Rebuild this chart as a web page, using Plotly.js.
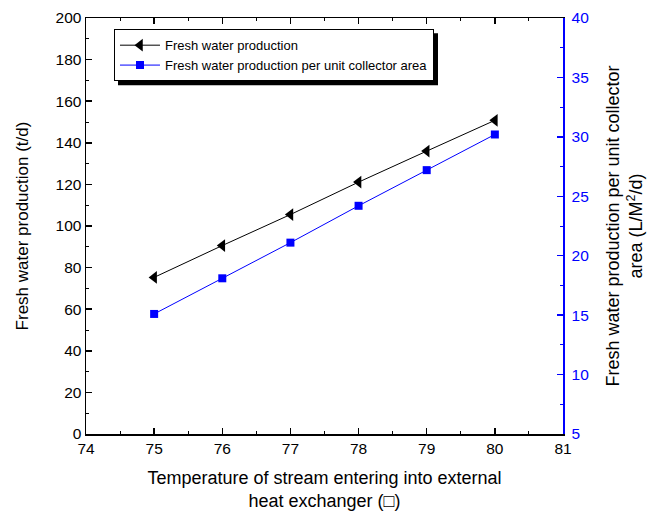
<!DOCTYPE html>
<html>
<head>
<meta charset="utf-8">
<script src="https://cdn.plot.ly/plotly-3.0.1.min.js"></script>
<style>html,body{margin:0;padding:0;background:#fff}#chart{width:662px;height:511px}</style>
</head>
<body>
<div id="chart"></div>
<script>
const temperature = [75, 76, 77, 78, 79, 80];
const freshWaterProduction = [75.3, 90.6, 105.5, 121.1, 136.0, 150.8];
const freshWaterPerArea = [15.1, 18.1, 21.1, 24.2, 27.2, 30.2];
const seriesNames = ["Fresh water production", "Fresh water production per unit collector area"];

const font = "Arial, 'Liberation Sans', sans-serif";

const traces = [
  {
    x: temperature, y: freshWaterProduction, name: seriesNames[0],
    type: "scatter", mode: "lines+markers",
    line: {color: "#000000", width: 1},
    marker: {symbol: "triangle-left", size: 11, color: "#000000"}
  },
  {
    x: temperature, y: freshWaterPerArea, name: seriesNames[1], yaxis: "y2",
    type: "scatter", mode: "lines+markers",
    line: {color: "#0000ff", width: 1},
    marker: {symbol: "square", size: 8, color: "#0000ff"}
  }
];

const legendX = 0.0587, legendY = 0.973;

const layout = {
  width: 662, height: 511,
  margin: {l: 86, r: 99, t: 18, b: 77},
  paper_bgcolor: "#ffffff", plot_bgcolor: "#ffffff",
  font: {family: font, color: "#000000", size: 15.5},
  showlegend: true,
  legend: {
    x: legendX, y: legendY, xanchor: "left", yanchor: "top",
    bgcolor: "#ffffff", bordercolor: "#000000", borderwidth: 1,
    font: {family: font, size: 13, color: "#000000"},
    tracegroupgap: 0, itemwidth: 40
  },
  xaxis: {
    range: [74, 81], dtick: 1, tick0: 74,
    showgrid: false, zeroline: false,
    showline: true, linecolor: "#000000", linewidth: 1.5, mirror: "ticks",
    ticks: "inside", ticklen: 6, tickwidth: 1.5, tickcolor: "#000000",
    minor: {ticks: "inside", ticklen: 3, dtick: 0.5, tickcolor: "#000000", tickwidth: 1},
    tickfont: {size: 15.5},
    title: {text: "Temperature of stream entering into external<br>heat exchanger (□)", font: {size: 18}, standoff: 16}
  },
  yaxis: {
    range: [0, 200], dtick: 20,
    showgrid: false, zeroline: false,
    showline: true, linecolor: "#000000", linewidth: 1.5,
    ticks: "inside", ticklen: 6, tickwidth: 1.5, tickcolor: "#000000",
    minor: {ticks: "inside", ticklen: 3, dtick: 10, tickcolor: "#000000", tickwidth: 1},
    tickfont: {size: 15.5},
    title: {text: "Fresh water production (t/d)", font: {size: 17}, standoff: 22}
  },
  yaxis2: {
    overlaying: "y", side: "right",
    range: [5, 40], dtick: 5,
    showgrid: false, zeroline: false,
    showline: true, linecolor: "#0000ff", linewidth: 1.5,
    ticks: "inside", ticklen: 6, tickwidth: 1.5, tickcolor: "#0000ff",
    minor: {ticks: "inside", ticklen: 3, dtick: 2.5, tickcolor: "#0000ff", tickwidth: 1},
    tickfont: {size: 15.5, color: "#0000ff"},
    ticklabelstandoff: 4,
    title: {text: "Fresh water production per unit collector<br>area (L/M<sup>2</sup>/d)", font: {size: 18, color: "#000000"}, standoff: 18}
  }
};

Plotly.newPlot("chart", traces, layout, {displayModeBar: false, staticPlot: true}).then(function (gd) {
  // drop shadow behind the legend box, sized from the drawn legend
  const fl = gd._fullLayout;
  const lg = fl.legend;
  const w = lg && lg._width, h = lg && lg._height;
  if (!w || !h) return;
  const off = 4;
  const pw = fl._size.w, ph = fl._size.h;
  const x0 = legendX + off / pw, x1 = legendX + (w + off) / pw;
  const y1 = legendY - off / ph, y0 = legendY - (h + off) / ph;
  return Plotly.relayout(gd, {shapes: [{
    type: "rect", xref: "paper", yref: "paper", layer: "above",
    x0: x0, x1: x1, y0: y0, y1: y1,
    fillcolor: "#000000", line: {width: 0}
  }]});
});
</script>
</body>
</html>
